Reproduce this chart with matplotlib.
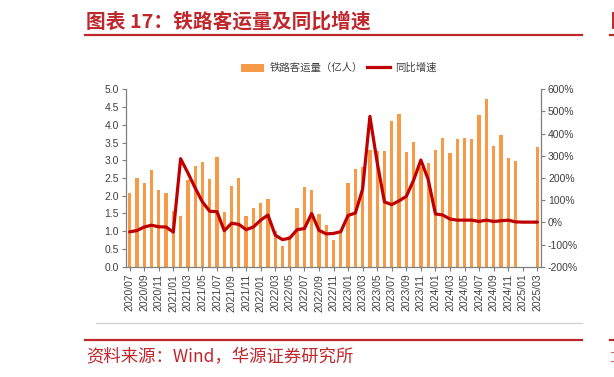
import numpy as np
import pandas as pd
import matplotlib
matplotlib.use("Agg")
import matplotlib.pyplot as plt
from matplotlib.lines import Line2D
from matplotlib.patches import Patch
from matplotlib.ticker import FuncFormatter, MultipleLocator

# =========================
# DATA
# =========================

months = [p.strftime("%Y/%m") for p in pd.period_range("2020-07", "2025-03", freq="M")]

# 铁路客运量（亿人），2025/01 和 2025/02 无数据
volume = [
    2.07, 2.49, 2.36, 2.73, 2.15, 2.08,
    1.58, 1.44, 2.44, 2.83, 2.96, 2.46, 3.09, 1.54, 2.27, 2.49, 1.44, 1.65,
    1.80, 1.91, 1.00, 0.57, 0.86, 1.66, 2.25, 2.16, 1.48, 1.18, 0.74, 0.99,
    2.36, 2.74, 2.80, 3.29, 3.26, 3.26, 4.11, 4.29, 3.24, 3.52, 2.81, 2.91,
    3.29, 3.64, 3.21, 3.60, 3.62, 3.60, 4.27, 4.73, 3.41, 3.72, 3.05, 2.98,
    np.nan, np.nan, 3.36,
]

# 同比增速（%）
yoy = [
    -43, -37, -21, -13, -20, -21,
    -44, 287, 223, 155, 92, 50, 48, -38, -4, -9, -33, -21,
    10, 33, -58, -78, -71, -33, -28, 40, -36, -52, -50, -42,
    31, 42, 150, 478, 270, 92, 80, 97, 117, 190, 281, 194,
    38, 33, 15, 10, 10, 10, 4, 10, 4, 7, 10, 2,
    1, 1, 1,
]

# =========================
# STYLE
# =========================

red = "#C0272D"
orange = "#F79A48"
line_red = "#C00000"
grey = "#7F7F7F"
txt = "#404040"
cjk = ["Noto Sans CJK SC", "DejaVu Sans"]
num_font = "Liberation Sans"

fig = plt.figure(figsize=(6.14, 3.77), dpi=100)
W, H = 614, 377

# title + rules
fig.text(86 / W, 1 - 22 / H, "图表 17：铁路客运量及同比增速", family=cjk,
         fontsize=14.2, fontweight="bold", color=red, ha="left", va="center")
fig.add_artist(Line2D([85 / W, 582 / W], [1 - 35 / H] * 2, color=red, lw=1.6))
fig.add_artist(Line2D([96 / W, 582 / W], [1 - 322.7 / H] * 2, color="#D0D0D0", lw=0.9))
fig.add_artist(Line2D([85 / W, 582 / W], [1 - 339.5 / H] * 2, color=red, lw=1.6))
fig.text(86 / W, 1 - 357 / H, "资料来源：Wind，华源证券研究所", family=cjk,
         fontsize=12.5, color=red, ha="left", va="center")

# cut-off edge of the neighbouring panel on the right
fig.add_artist(Line2D([610 / W, 1.0], [1 - 35 / H] * 2, color=red, lw=1.6))
fig.add_artist(Line2D([610 / W, 1.0], [1 - 339.5 / H] * 2, color=red, lw=1.6))
fig.add_artist(Line2D([612.5 / W] * 2, [1 - 13 / H, 1 - 28 / H], color=red, lw=1.4))
fig.add_artist(Line2D([611 / W, 1.0], [1 - 352 / H] * 2, color=red, lw=0.8, alpha=0.7))
fig.add_artist(Line2D([611 / W, 1.0], [1 - 361 / H] * 2, color=red, lw=0.8, alpha=0.7))

# =========================
# CHART
# =========================

ax = fig.add_axes([126 / W, 1 - 266.7 / H, (541 - 126) / W, (266.7 - 89.3) / H])
x = np.arange(len(months))

ax.bar(x, volume, width=0.45, color=orange, zorder=2)
ax.set_xlim(-0.5, len(months) - 0.5)
ax.set_ylim(0, 5)
ax.yaxis.set_major_locator(MultipleLocator(0.5))
ax.yaxis.set_major_formatter(FuncFormatter(lambda v, p: f"{v:.1f}"))

ax.set_xticks(x[::2])
ax.set_xticklabels(months[::2], rotation=90, fontsize=7.5, family=num_font, color=txt)

ax2 = ax.twinx()
ax2.plot(x, yoy, color=line_red, lw=2.3, solid_joinstyle="round",
         solid_capstyle="round", zorder=3)
ax2.set_ylim(-200, 600)
ax2.yaxis.set_major_locator(MultipleLocator(100))
ax2.yaxis.set_major_formatter(FuncFormatter(lambda v, p: f"{v:.0f}%"))

for a in (ax, ax2):
    a.patch.set_visible(False)
    a.spines["top"].set_visible(False)
    for s in ("left", "right", "bottom"):
        a.spines[s].set_color(grey)
        a.spines[s].set_linewidth(0.9)
    a.tick_params(axis="both", direction="out", length=3, width=0.8, color=grey,
                  labelsize=7.5, labelcolor=txt, pad=2)
    for lab in a.get_yticklabels():
        lab.set_family(num_font)

ax.spines["right"].set_visible(False)
ax2.spines["left"].set_visible(False)
ax2.spines["bottom"].set_visible(False)

# legend
handles = [
    Patch(facecolor=orange, edgecolor="none", label="铁路客运量（亿人）"),
    Line2D([0], [0], color=line_red, lw=2.3, label="同比增速"),
]
fig.legend(handles=handles, loc="center", bbox_to_anchor=(339 / W, 1 - 68 / H),
           ncol=2, frameon=False, prop={"family": cjk, "size": 7.5},
           handlelength=2.2, handleheight=0.8, handletextpad=0.5,
           columnspacing=0.4, labelcolor=txt)

fig.savefig("out.png", dpi=100)
